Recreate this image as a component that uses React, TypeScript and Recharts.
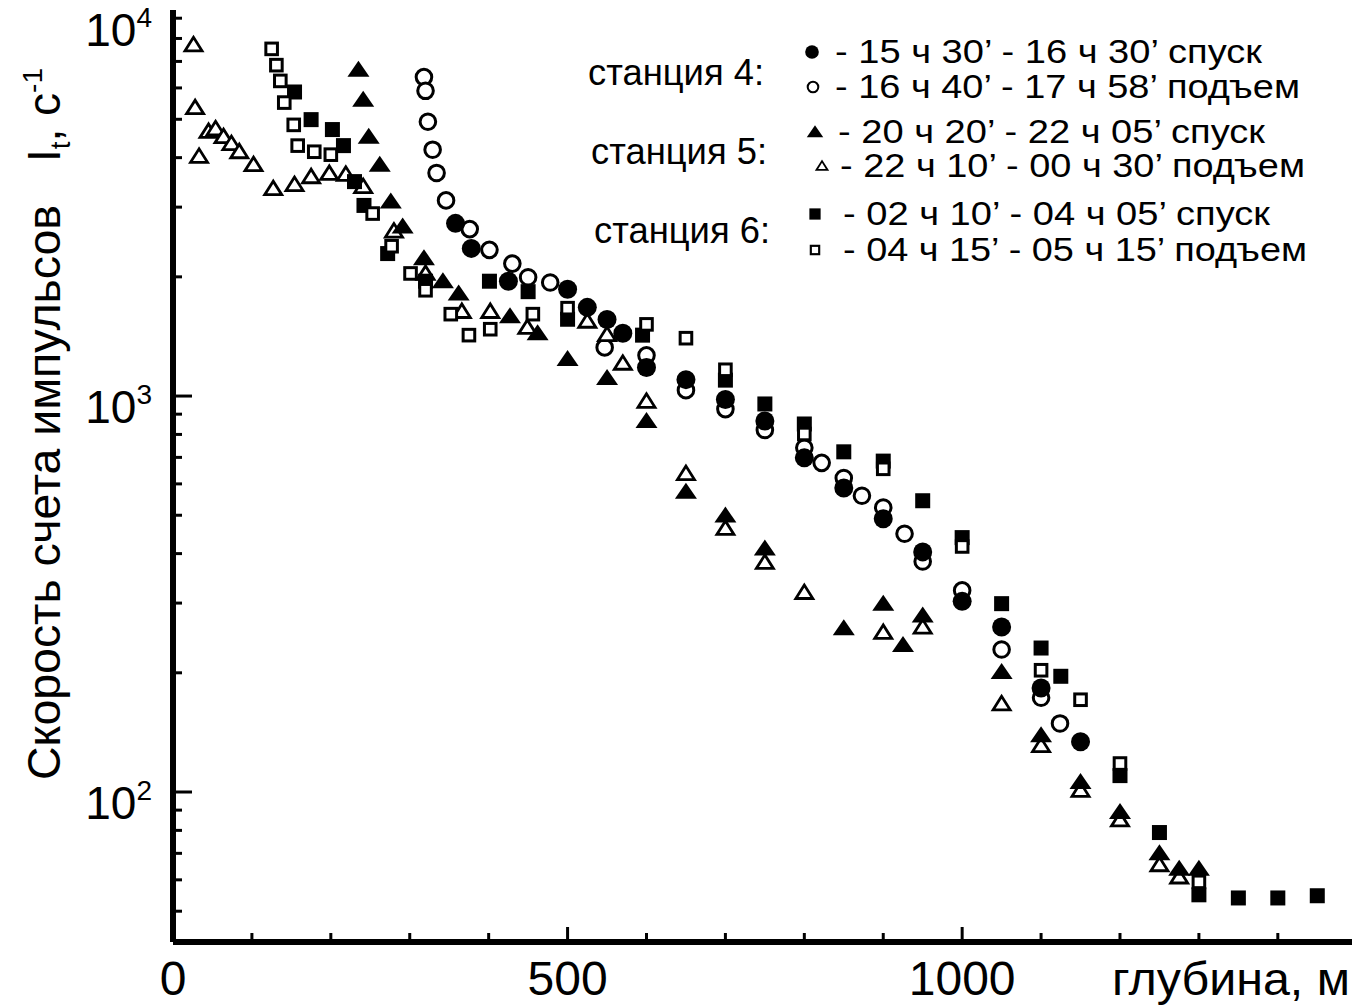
import React from "react";
import { ScatterChart, Scatter, XAxis, YAxis } from "recharts";

// Count rate vs depth, stations 4–6, log y. Open marks = ascent, filled = descent.

const W = 1355;
const H = 1007;
const FONT = '"Liberation Sans", Arial, Helvetica, sans-serif';

// station 4, descent (filled circles)
const st4DownDepth = [358, 378, 425, 500, 525, 550, 570, 600, 650, 700, 750, 800, 850, 900, 950, 1000, 1050, 1100, 1150];
const st4DownRate = [2730, 2360, 1950, 1860, 1675, 1560, 1440, 1180, 1100, 980, 865, 698, 586, 490, 404, 303, 261, 183, 134];

// station 4, ascent (open circles)
const st4UpDepth = [318, 320, 323, 329, 334, 346, 376, 401, 430, 450, 478, 547, 600, 650, 700, 750, 800, 822, 850, 873, 900, 927, 950, 1000, 1050, 1100, 1124];
const st4UpRate = [6390, 5900, 4930, 4190, 3660, 3120, 2640, 2340, 2160, 1995, 1935, 1327, 1267, 1035, 927, 821, 740, 678, 621, 560, 523, 449, 382, 323, 229, 173, 149];

// station 5, descent (filled triangles)
const st5DownDepth = [235, 241, 248, 262, 276, 291, 318, 342, 362, 427, 462, 500, 550, 600, 650, 700, 750, 850, 900, 925, 950, 1050, 1100, 1150, 1200, 1250, 1275, 1300];
const st5DownRate = [6670, 5600, 4520, 3840, 3100, 2680, 2230, 1950, 1815, 1590, 1440, 1240, 1110, 865, 573, 499, 412, 259, 299, 235, 279, 201, 139, 106, 89, 70, 64, 64];

// station 5, ascent (open triangles)
const st5UpDepth = [26, 28, 33, 45, 54, 64, 74, 84, 102, 127, 154, 175, 198, 219, 241, 280, 320, 366, 402, 449, 525, 550, 570, 600, 650, 700, 750, 800, 900, 950, 1050, 1100, 1150, 1200, 1250, 1275];
const st5UpRate = [7710, 5350, 4030, 4660, 4730, 4520, 4340, 4140, 3840, 3340, 3420, 3580, 3650, 3630, 3380, 2610, 2040, 1635, 1635, 1490, 1545, 1430, 1210, 970, 637, 463, 380, 319, 253, 261, 167, 131, 101, 85, 65.5, 61];

// station 6, descent (filled squares)
const st6DownDepth = [154, 175, 202, 216, 230, 242, 272, 320, 401, 450, 500, 595, 700, 750, 800, 850, 900, 950, 1000, 1050, 1100, 1125, 1200, 1250, 1300, 1350, 1400, 1450];
const st6DownRate = [5860, 4990, 4710, 4290, 3480, 3030, 2290, 1950, 1950, 1835, 1563, 1425, 1097, 955, 850, 723, 685, 544, 439, 299, 231, 196, 110, 79, 55, 54, 54, 54.7];

// station 6, ascent (open squares)
const st6UpDepth = [125, 131, 136, 141, 153, 158, 179, 200, 253, 277, 301, 320, 352, 375, 402, 456, 500, 600, 650, 700, 800, 900, 1000, 1100, 1150, 1200, 1300];
const st6UpRate = [7530, 6850, 6250, 5510, 4840, 4290, 4140, 4070, 2890, 2390, 2040, 1850, 1610, 1425, 1475, 1610, 1667, 1517, 1400, 1165, 802, 655, 417, 203, 171, 118, 59.3];

const depthTicks = [0, 100, 200, 300, 400, 500, 600, 700, 800, 900, 1000, 1100, 1200, 1300, 1400];
const rateTicks = [50, 60, 70, 80, 90, 100, 200, 300, 400, 500, 600, 700, 800, 900, 1000, 2000, 3000, 4000, 5000, 6000, 7000, 8000, 9000];
const depthDomain = [0, 1494];
const rateDomain = [41.8, 9440];

const legendRows = [
  { kind: "disc", text: "- 15 ч 30’ - 16 ч 30’ спуск" },
  { kind: "ring", text: "- 16 ч 40’ - 17 ч 58’ подъем" },
  { kind: "tri", text: "- 20 ч 20’ - 22 ч 05’ спуск" },
  { kind: "triOpen", text: "- 22 ч 10’ - 00 ч 30’ подъем" },
  { kind: "sq", text: "- 02 ч 10’ - 04 ч 05’ спуск" },
  { kind: "sqOpen", text: "- 04 ч 15’ - 05 ч 15’ подъем" },
];
const stationLabels = ["станция 4:", "станция 5:", "станция 6:"];

const toPoints = (depth: number[], rate: number[]) => depth.map((d, i) => ({ x: d, y: rate[i] }));

function Marker({ kind, cx, cy, s = 1 }: { kind: string; cx: number; cy: number; s?: number }) {
  if (kind === "disc") return <circle cx={cx} cy={cy} r={9.5 * s} fill="#000" />;
  if (kind === "ring")
    return <circle cx={cx} cy={cy} r={7.8 * s} fill="#fff" stroke="#000" strokeWidth={3 * s} />;
  if (kind === "tri") {
    const w = 11 * s;
    const pts = `${cx},${cy - 9 * s} ${cx - w},${cy + 7 * s} ${cx + w},${cy + 7 * s}`;
    return <polygon points={pts} fill="#000" />;
  }
  if (kind === "triOpen") {
    const w = 8.5 * s;
    const pts = `${cx},${cy - 7.5 * s} ${cx - w},${cy + 6 * s} ${cx + w},${cy + 6 * s}`;
    return <polygon points={pts} fill="#fff" stroke="#000" strokeWidth={2.8 * s} />;
  }
  if (kind === "sq") {
    const h = 7.5 * s;
    return <rect x={cx - h} y={cy - h} width={2 * h} height={2 * h} fill="#000" />;
  }
  const h = 5.8 * s;
  return <rect x={cx - h} y={cy - h} width={2 * h} height={2 * h} fill="#fff" stroke="#000" strokeWidth={3 * s} />;
}

const shapeOf = (kind: string) => (p: any) => <Marker kind={kind} cx={p.cx} cy={p.cy} />;

function BottomTick({ x, y, payload }: any) {
  const v = payload.value;
  const major = v % 500 === 0;
  return (
    <g>
      <line x1={x} x2={x} y1={y} y2={y - (major ? 15 : 9)} stroke="#000" strokeWidth={3} />
      {major && (
        <text x={x} y={y + 53} textAnchor="middle" fontSize={48} fontFamily={FONT} fill="#000">
          {v}
        </text>
      )}
    </g>
  );
}

function TopTick({ x, y }: any) {
  return <line x1={x} x2={x} y1={y} y2={y + 8} stroke="#000" strokeWidth={3} />;
}

function LeftTick({ x, y, payload }: any) {
  const v = payload.value;
  const e = Math.round(Math.log10(v));
  const major = Math.abs(Math.pow(10, e) - v) < 1e-6;
  return (
    <g>
      <line x1={x} x2={x + (major ? 19 : 9)} y1={y} y2={y} stroke="#000" strokeWidth={3} />
      {major && (
        <text x={x - 21} y={y + 27} textAnchor="end" fontFamily={FONT} fill="#000">
          <tspan fontSize={46}>10</tspan>
          <tspan fontSize={28} dy={-19}>{e}</tspan>
        </text>
      )}
    </g>
  );
}

function RightTick({ x, y }: any) {
  return <line x1={x} x2={x - 6} y1={y} y2={y} stroke="#000" strokeWidth={3} />;
}

function Overlay() {
  return (
    <svg width={W} height={H} style={{ position: "absolute", left: 0, top: 0, pointerEvents: "none" }}>
      <g fontFamily={FONT} fill="#000">
        {/* y title */}
        <text transform="rotate(-90)" x={-780} y={60} fontSize={46}>
          <tspan textLength={575} lengthAdjust="spacingAndGlyphs">Скорость счета импульсов</tspan>
          <tspan x={-162}>I</tspan>
          <tspan fontSize={28} dy={10}>t</tspan>
          <tspan dy={-10}>, с</tspan>
          <tspan fontSize={28} dy={-18}>-1</tspan>
        </text>
        {/* top decade label */}
        <text x={152} y={46} textAnchor="end">
          <tspan fontSize={46}>10</tspan>
          <tspan fontSize={28} dy={-19}>4</tspan>
        </text>
        <text x={1112} y={995} fontSize={46} textLength={238} lengthAdjust="spacingAndGlyphs">
          глубина, м
        </text>

        {/* legend */}
        {stationLabels.map((t, i) => (
          <text key={t} x={588 + i * 3} y={85 + i * 79} fontSize={36} textLength={176} lengthAdjust="spacingAndGlyphs">
            {t}
          </text>
        ))}
        {legendRows.map((r, i) => {
          const base = [63, 98, 143, 177, 225, 261][i];
          const mx = [812, 813, 815, 822, 815, 815][i];
          const scale = [0.72, 0.68, 0.75, 0.65, 0.75, 0.72][i];
          const tx = [835, 835, 838, 840, 843, 843][i];
          const tw = [427, 465, 427, 465, 427, 464][i];
          return (
            <g key={r.text}>
              <Marker kind={r.kind} cx={mx} cy={base - 11} s={scale} />
              <text x={tx} y={base} fontSize={33} textLength={tw} lengthAdjust="spacingAndGlyphs">
                {r.text}
              </text>
            </g>
          );
        })}
      </g>
    </svg>
  );
}

export default function App() {
  return (
    <div style={{ position: "absolute", left: 0, top: 0, width: W, height: H, background: "#fff" }}>
      <ScatterChart width={W} height={H} margin={{ top: 10, right: 3, bottom: 0, left: 0 }}>
        <XAxis
          type="number" dataKey="x" domain={depthDomain} ticks={depthTicks} interval={0}
          allowDataOverflow height={65} tickSize={0} tickMargin={0} tickLine={false}
          axisLine={{ stroke: "#000", strokeWidth: 6 }} tick={<BottomTick />}
        />
        <XAxis
          xAxisId="top" orientation="top" type="number" domain={depthDomain} ticks={depthTicks}
          interval={0} allowDataOverflow height={0} tickSize={0} tickMargin={0} tickLine={false}
          axisLine={{ stroke: "#000", strokeWidth: 4 }} tick={<TopTick />}
        />
        <YAxis
          type="number" dataKey="y" scale="log" domain={rateDomain} ticks={rateTicks} interval={0}
          allowDataOverflow width={173} tickSize={0} tickMargin={0} tickLine={false}
          axisLine={{ stroke: "#000", strokeWidth: 6 }} tick={<LeftTick />}
        />
        <YAxis
          yAxisId="right" orientation="right" type="number" scale="log" domain={rateDomain}
          ticks={rateTicks} interval={0} allowDataOverflow width={0} tickSize={0} tickMargin={0}
          tickLine={false} axisLine={{ stroke: "#000", strokeWidth: 2 }} tick={<RightTick />}
        />

        <Scatter data={toPoints(st4UpDepth, st4UpRate)} shape={shapeOf("ring")} isAnimationActive={false} />
        <Scatter data={toPoints(st5UpDepth, st5UpRate)} shape={shapeOf("triOpen")} isAnimationActive={false} />
        <Scatter data={toPoints(st6DownDepth, st6DownRate)} shape={shapeOf("sq")} isAnimationActive={false} />
        <Scatter data={toPoints(st6UpDepth, st6UpRate)} shape={shapeOf("sqOpen")} isAnimationActive={false} />
        <Scatter data={toPoints(st4DownDepth, st4DownRate)} shape={shapeOf("disc")} isAnimationActive={false} />
        <Scatter data={toPoints(st5DownDepth, st5DownRate)} shape={shapeOf("tri")} isAnimationActive={false} />
      </ScatterChart>
      <Overlay />
    </div>
  );
}
